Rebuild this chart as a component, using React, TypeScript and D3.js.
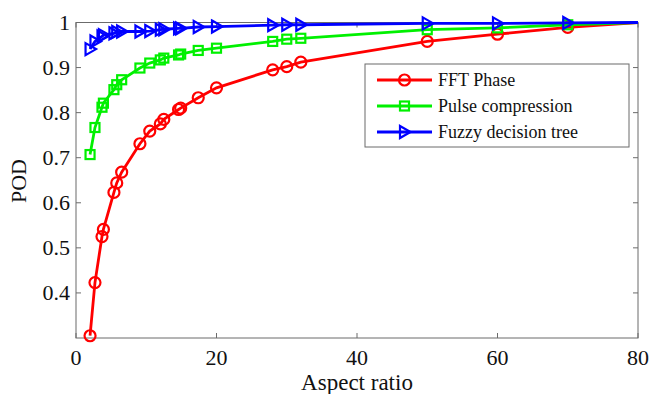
import React from "react";
import * as d3 from "d3";

const aspectRatio = [2, 2.7, 3.7, 3.9, 5.4, 5.8, 6.5, 9.1, 10.5, 12, 12.5, 14.6, 14.9, 17.4, 20, 28, 30, 32, 50, 60, 70, 80];
const fftPhase = [0.305, 0.423, 0.525, 0.541, 0.623, 0.644, 0.668, 0.731, 0.759, 0.775, 0.785, 0.807, 0.81, 0.833, 0.855, 0.895, 0.902, 0.912, 0.958, 0.974, 0.989, 1.0];
const pulseCompression = [0.707, 0.767, 0.812, 0.821, 0.851, 0.862, 0.873, 0.899, 0.91, 0.917, 0.921, 0.928, 0.93, 0.938, 0.943, 0.958, 0.963, 0.965, 0.984, 0.988, 0.995, 1.0];
const fuzzyTree = [0.941, 0.958, 0.969, 0.972, 0.976, 0.979, 0.98, 0.98, 0.981, 0.984, 0.985, 0.987, 0.987, 0.99, 0.991, 0.994, 0.995, 0.995, 0.998, 0.998, 0.999, 1.0];
const seriesNames = ["FFT Phase", "Pulse compression", "Fuzzy decision tree"];
const seriesColors = ["#ff0000", "#00f000", "#0000ff"];
const seriesMarkers = ["circle", "square", "triangle"];
const xTicks = [0, 20, 40, 60, 80];
const yTicks = [0.4, 0.5, 0.6, 0.7, 0.8, 0.9, 1];

const W = 653, H = 394;
const L = 76, R = 638, T = 22.5, B = 338;
const FONT = "'Liberation Serif', 'Times New Roman', serif";

function Marker({ kind, x, y, color }: { kind: string; x: number; y: number; color: string }) {
  if (kind === "circle") return <circle cx={x} cy={y} r={5.5} fill="none" stroke={color} strokeWidth={2.2} />;
  if (kind === "square") return <rect x={x - 4.5} y={y - 4.5} width={9} height={9} fill="none" stroke={color} strokeWidth={2.2} />;
  const p = `M${x - 4.5},${y - 6} L${x + 6},${y} L${x - 4.5},${y + 6} Z`;
  return <path d={p} fill="none" stroke={color} strokeWidth={2.2} />;
}

export default function App() {
  const x = d3.scaleLinear().domain([0, 80]).range([L, R]);
  const y = d3.scaleLinear().domain([0.3, 1]).range([B, T]);
  const data = [fftPhase, pulseCompression, fuzzyTree];
  const line = d3.line<[number, number]>().x(d => x(d[0])).y(d => y(d[1]));
  const axisColor = "#6b6b6b";
  const fmt = (v: number) => (v === 1 ? "1" : d3.format(".1f")(v));
  const legend = { x: 365, y: 64, w: 264, h: 83 };
  const rowY = [80, 106, 132];

  return (
    <svg width={W} height={H} style={{ position: "absolute", left: 0, top: 0, background: "#fff" }} fontFamily={FONT}>
      <rect x={0} y={0} width={W} height={H} fill="#fff" />
      <rect x={L} y={T} width={R - L} height={B - T} fill="none" stroke={axisColor} strokeWidth={1} />
      {xTicks.map(t => (
        <g key={"xt" + t}>
          <line x1={x(t)} x2={x(t)} y1={B} y2={B - 5} stroke={axisColor} />
          <line x1={x(t)} x2={x(t)} y1={T} y2={T + 5} stroke={axisColor} />
          <text x={x(t)} y={365} textAnchor="middle" fontSize={22} fill="#111">{t}</text>
        </g>
      ))}
      {yTicks.map(t => (
        <g key={"yt" + t}>
          <line x1={L} x2={L + 5} y1={y(t)} y2={y(t)} stroke={axisColor} />
          <line x1={R} x2={R - 5} y1={y(t)} y2={y(t)} stroke={axisColor} />
          <text x={70} y={y(t) + 7.5} textAnchor="end" fontSize={22} fill="#111">{fmt(t)}</text>
        </g>
      ))}
      <text x={357} y={390} textAnchor="middle" fontSize={23} fill="#111">Aspect ratio</text>
      <text transform={`translate(26,181) rotate(-90)`} textAnchor="middle" fontSize={22} fill="#111">POD</text>
      {data.map((vals, i) => {
        const pts: [number, number][] = aspectRatio.map((a, j) => [a, vals[j]]);
        return (
          <g key={"s" + i}>
            <path d={line(pts) || ""} fill="none" stroke={seriesColors[i]} strokeWidth={2.8} />
            {pts.slice(0, pts.length - 1).map((p, j) => (
              <Marker key={j} kind={seriesMarkers[i]} x={x(p[0])} y={y(p[1])} color={seriesColors[i]} />
            ))}
          </g>
        );
      })}
      <rect x={legend.x} y={legend.y} width={legend.w} height={legend.h} fill="#fff" stroke={axisColor} strokeWidth={1} />
      {seriesNames.map((n, i) => (
        <g key={"lg" + i}>
          <line x1={377} x2={432} y1={rowY[i]} y2={rowY[i]} stroke={seriesColors[i]} strokeWidth={2.8} />
          <Marker kind={seriesMarkers[i]} x={404.5} y={rowY[i]} color={seriesColors[i]} />
          <text x={438} y={rowY[i] + 6} fontSize={18} fill="#111">{n}</text>
        </g>
      ))}
    </svg>
  );
}
